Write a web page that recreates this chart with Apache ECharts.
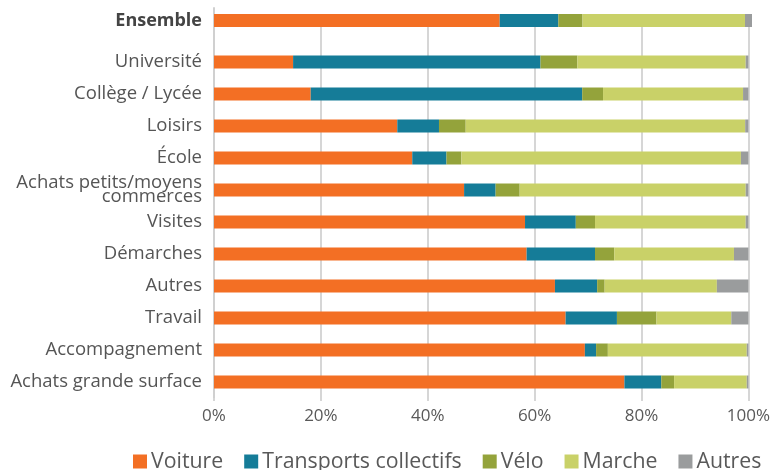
<!DOCTYPE html>
<html>
<head>
<meta charset="utf-8">
<script src="https://cdn.jsdelivr.net/npm/echarts@6/dist/echarts.min.js"></script>
<style>
  html, body { margin: 0; padding: 0; background: #fff; }
  #main { width: 773px; height: 470px; }
</style>
</head>
<body>
<div id="main"></div>
<script>
const modes = ['Voiture', 'Transports collectifs', 'Vélo', 'Marche', 'Autres'];
const colors = ['#f36f24', '#157c98', '#94a33b', '#c9d168', '#9a9c9d'];

// row "Ensemble", one value per mode
const ensemble = [53.1, 10.9, 4.5, 30.2, 1.3];

const categories = [
  'Université', 'Collège / Lycée', 'Loisirs', 'École',
  'Achats petits/moyens\ncommerces', 'Visites', 'Démarches', 'Autres',
  'Travail', 'Accompagnement', 'Achats grande surface'
];
const voiture    = [14.8, 18.1, 34.3, 37.1, 46.8, 58.2, 58.5, 63.8, 65.8, 69.4, 76.8];
const transports = [46.3, 50.8, 7.8, 6.4, 5.9, 9.5, 12.8, 7.9, 9.6, 2.1, 6.9];
const velo       = [6.9, 3.9, 5.0, 2.8, 4.5, 3.6, 3.6, 1.4, 7.4, 2.2, 2.4];
const marche     = [31.5, 26.2, 52.3, 52.3, 42.3, 28.2, 22.4, 21.0, 14.0, 26.0, 13.6];
const autres     = [0.5, 1.0, 0.6, 1.4, 0.5, 0.5, 2.7, 5.9, 3.2, 0.3, 0.3];

const xTicks = [0, 20, 40, 60, 80, 100];

const detail = [voiture, transports, velo, marche, autres];
const font = '"Open Sans", sans-serif';

const chart = echarts.init(document.getElementById('main'), null, { renderer: 'canvas' });

const series = [];
modes.forEach(function (name, i) {
  series.push({
    name: name,
    type: 'bar',
    stack: 'ens',
    xAxisIndex: 0,
    yAxisIndex: 0,
    barWidth: 13,
    itemStyle: { color: colors[i] },
    data: [ensemble[i]]
  });
  series.push({
    name: name,
    type: 'bar',
    stack: 'cat',
    xAxisIndex: 1,
    yAxisIndex: 1,
    barWidth: 13,
    itemStyle: { color: colors[i] },
    data: ['-'].concat(detail[i])
  });
});

const option = {
  animation: false,
  color: colors,
  textStyle: { fontFamily: font },
  grid: [
    { left: 214, right: 21, top: 8, height: 25 },
    { left: 214, right: 21, top: 14, height: 384 }
  ],
  legend: {
    data: modes,
    top: 446,
    left: 128,
    icon: 'rect',
    itemWidth: 14,
    itemHeight: 14,
    itemGap: 21,
    textStyle: { fontFamily: font, fontSize: 21.3, color: '#595959', padding: [0, 0, 0, -1] }
  },
  xAxis: [{
    gridIndex: 0,
    type: 'value',
    min: 0, max: 100, interval: 20,
    show: false
  }, {
    gridIndex: 1,
    type: 'value',
    min: xTicks[0], max: xTicks[xTicks.length - 1], interval: 20,
    axisLine: { show: false },
    axisTick: { show: true, length: 3, lineStyle: { color: '#d6d6d6', width: 2 } },
    axisLabel: {
      formatter: '{value}%',
      fontFamily: font,
      fontSize: 17,
      color: '#595959',
      margin: 10
    },
    splitLine: { lineStyle: { color: '#d6d6d6', width: 2 } }
  }],
  yAxis: [{
    gridIndex: 0,
    type: 'category',
    inverse: true,
    data: ['Ensemble'],
    axisLine: { show: true, lineStyle: { color: '#d0d0d0', width: 2 } },
    axisTick: { show: false },
    axisLabel: {
      fontFamily: font,
      fontSize: 18,
      fontWeight: 'bold',
      color: '#444',
      margin: 12
    }
  }, {
    gridIndex: 1,
    type: 'category',
    inverse: true,
    data: [''].concat(categories),
    axisLine: { show: true, lineStyle: { color: '#d0d0d0', width: 2 } },
    axisTick: { show: false },
    axisLabel: {
      fontFamily: font,
      fontSize: 18.5,
      color: '#555',
      margin: 12,
      lineHeight: 14,
      interval: 0
    }
  }],
  series: series
};

chart.setOption(option);
</script>
</body>
</html>
